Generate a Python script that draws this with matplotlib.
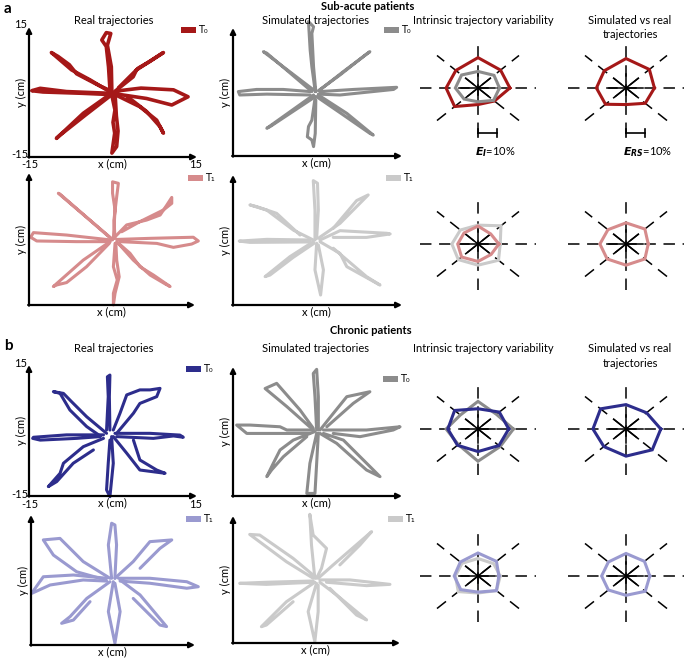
import matplotlib
matplotlib.use("Agg")
import matplotlib.pyplot as plt
import numpy as np

plt.rcParams['font.family'] = ['Lato', 'DejaVu Sans']

W, H = 685, 659

# ---------------- trajectory data (cm) ----------------
sub_real_T0 = [
    [(-0.5,-0.3),(-0.8,5.8),(-1.2,10.5),(-2.0,12.0),(-1.2,13.7),(-0.4,13.5),(-1.0,10.8),(-0.3,5.8),(-0.2,-0.3)],
    [(-0.5,0),(-4.1,2.8),(-7.4,5.1),(-11.0,9.1),(-9.8,8.2),(-7.8,6.3),(-6.5,4.2),(-2.5,1.5),(-0.3,0.2)],
    [(-0.5,-0.3),(-8.3,0.1),(-13.0,0.85),(-14.5,0.3),(-12.5,0.0),(-5.5,-0.3),(-0.3,-0.6)],
    [(-0.6,-0.6),(-5.3,-4.9),(-10.1,-10.7),(-9.5,-10.0),(-4.8,-5.2),(-0.5,-0.9)],
    [(-0.2,-0.8),(0.35,-4.15),(0.0,-7.0),(0.3,-9.5),(-0.2,-14.1),(0.65,-12.6),(0.9,-9.0),(0.6,-5.5),(0.4,-1.0)],
    [(0.2,-0.5),(4.8,-3.4),(7.8,-6.5),(9.0,-9.5),(8.4,-8.0),(6.0,-4.5),(2.5,-1.0)],
    [(0.5,0.2),(5.0,0.9),(10.8,0.5),(13.4,-1.1),(10.5,-3.0),(6.0,-1.5),(0.8,-0.5)],
    [(0.2,0.0),(3.6,3.5),(4.2,5.1),(9.0,9.1),(6.5,7.0),(4.5,5.5),(1.0,1.0)],
]
sub_sim_T0 = [
    [(-0.4,0.1),(-1.0,5.9),(-1.3,9.8),(-1.6,16.5),(-0.7,15.3),(-1.0,13.75),(-0.7,5.9),(-0.3,0.1)],
    [(-0.7,0.5),(-9.6,9.45),(-9.0,9.1),(-1.0,0.1)],
    [(-1.3,0.1),(-6.1,0.6),(-10.8,0.6),(-14.05,0.1),(-13.8,-0.7),(-9.0,-0.5),(-1.3,-0.7)],
    [(-0.7,-0.7),(-9.0,-8.5),(-8.4,-8.1),(-0.4,-1.1)],
    [(-0.4,-1.1),(-1.0,-6.6),(-1.6,-8.1),(-1.8,-10.5),(-1.0,-11.25),(-0.7,-12.8),(-0.4,-9.7),(-0.3,-1.9)],
    [(0.15,-0.7),(5.2,-5.0),(9.9,-10.1),(9.3,-9.7),(4.6,-5.4),(-0.15,-1.1)],
    [(0.45,0.1),(6.4,0.6),(14.05,1.1),(13.5,0.6),(4.0,-0.7),(0.15,-0.5)],
    [(0.45,0.5),(4.6,4.8),(9.3,9.45),(8.7,8.9),(4.0,4.0),(0.15,0.3)],
]
sub_real_T1 = [
    [(0.25,0.15),(0.55,6.6),(0.1,10.4),(0.1,13.0),(1.15,12.65),(0.85,9.6),(0.35,4.3),(0.55,0.15)],
    [(0,0),(-9.7,10.4),(-9.4,10.2),(0.1,-0.2)],
    [(-0.35,-0.2),(-8.2,0.9),(-14.2,1.45),(-14.7,0.4),(-13.6,-0.45),(-6.4,-0.6),(-0.35,-0.6)],
    [(-0.35,-0.6),(-5.2,-4.8),(-10.6,-10.8),(-10.0,-10.45),(-8.2,-9.9),(-4.6,-6.3),(-0.5,-1.0)],
    [(0.55,-1.0),(0.25,-6.3),(0.95,-9.3),(0.25,-12.35),(0.25,-15.0),(0.55,-12.35),(1.3,-8.6),(0.85,-4.8),(0.7,-1.0)],
    [(0.85,-0.6),(3.25,-3.25),(5.05,-6.3),(7.5,-8.2),(10.5,-10.8),(9.6,-10.2),(6.9,-8.2),(3.85,-4.8),(1.15,-1.0)],
    [(0.85,-0.1),(6.9,0.15),(14.7,0.4),(15.6,-0.45),(14.4,-1.15),(11.1,-1.9),(8.1,-1.0),(1.45,-0.6)],
    [(0.55,0.5),(2.65,3.2),(6.25,4.3),(8.7,5.45),(9.9,7.7),(10.8,9.45),(10.8,8.1),(9.3,6.6),(5.05,3.95),(1.75,1.65)],
]
sub_sim_T1 = [
    [(-0.45,0),(-0.45,6.9),(-0.75,13.7),(0,13.1),(0.15,6.9),(-0.15,0.4)],
    [(-0.75,0),(-4.3,2.3),(-9.0,6.9),(-12.0,8.1),(-10.8,7.7),(-7.25,6.15),(-3.1,1.15)],
    [(-1.35,0),(-9.0,0.15),(-13.9,-0.25),(-12.0,-0.55),(-1.35,-0.45)],
    [(-0.75,-0.4),(-4.9,-3.85),(-9.3,-8.45),(-8.45,-8.1),(-4.3,-4.0),(-0.6,-0.75)],
    [(-0.15,-0.75),(-0.45,-6.9),(0.55,-12.7),(1.05,-6.9),(0.15,-1.15)],
    [(0.45,-0.4),(4.0,-3.1),(5.2,-6.15),(11.1,-10.4),(8.7,-8.45),(2.8,-1.9)],
    [(0.45,0),(4.0,2.15),(12.3,1.55),(12.9,1.4),(8.7,0.6),(2.8,0.6)],
    [(0.15,0.4),(4.0,3.85),(9.0,10.4),(6.95,9.1),(2.8,2.7)],
]
chr_real_T0 = [
    [(-1.15,0.1),(-0.85,7.75),(-1.0,12.3),(-0.55,12.7),(-0.65,7.75),(-0.55,0.1)],
    [(-1.15,-0.65),(-4.7,3.15),(-7.4,6.6),(-8.85,8.5),(-10.65,8.9),(-9.45,8.5),(-7.7,4.7),(-4.7,0.9),(-2.3,-1.25)],
    [(-1.7,-1.0),(-8.3,-1.0),(-14.2,-1.55),(-14.35,-1.8),(-13.0,-2.2),(-6.5,-1.8),(-2.3,-1.4)],
    [(-1.7,-1.8),(-5.3,-3.7),(-8.85,-7.5),(-9.45,-9.8),(-11.55,-12.85),(-10.05,-11.7),(-7.1,-7.5),(-3.5,-4.45)],
    [(-0.25,-1.4),(0.05,-7.5),(-0.55,-15.15),(-1.15,-13.6),(-0.85,-7.5),(-0.55,-2.2)],
    [(0.05,-1.4),(2.45,-5.2),(4.8,-9.05),(9.3,-9.8),(7.8,-9.05),(4.8,-6.75),(3.65,-2.2)],
    [(0.35,-0.65),(6.6,-0.65),(11.95,-1.05),(12.55,-1.55),(10.8,-1.25),(7.2,-1.8),(0.65,-1.4)],
    [(0.05,0.1),(1.25,3.95),(2.45,8.15),(4.8,9.3),(6.6,9.3),(8.4,9.65),(7.8,7.75),(4.8,6.2),(3.65,3.95),(0.65,-0.65)],
]
chr_sim_T0 = [
    [(-0.15,0.35),(-0.45,8.1),(-0.75,13.5),(-0.15,14.45),(0.15,8.1),(0.15,0.35)],
    [(-0.75,0.35),(-5.45,5.8),(-9.3,10.0),(-7.25,11.2),(-3.1,5.0),(-0.75,0.75)],
    [(-0.75,0.35),(-5.45,0.35),(-6.65,1.1),(-12.0,1.5),(-14.35,1.5),(-12.55,-0.45),(-6.65,-0.45),(-1.35,-0.45)],
    [(-0.45,0),(-4.3,-2.0),(-6.65,-4.3),(-7.85,-7.4),(-9.0,-10.5),(-8.15,-8.95),(-6.05,-5.85),(-1.9,-1.2)],
    [(-0.15,-0.45),(-1.35,-7.4),(-1.9,-14.4),(-0.45,-14.4),(-0.15,-7.4),(0.15,-0.45)],
    [(1.05,-0.45),(4.6,-2.0),(11.1,-10.5),(8.7,-8.95),(3.4,-2.75),(0.45,-0.45)],
    [(1.05,0.35),(8.7,0.35),(14.65,1.1),(13.45,0.35),(7.55,-1.2),(2.8,-0.45)],
    [(0.45,0.35),(2.8,4.2),(5.2,8.1),(9.3,9.25),(6.35,6.55),(1.65,1.1)],
]
chr_real_T1 = [
    [(-0.25,0.4),(-0.85,8.1),(-0.25,13.1),(0.35,12.7),(0.65,8.1),(0.35,0.4)],
    [(-0.55,0.4),(-5.45,4.25),(-9.7,9.6),(-12.75,9.25),(-10.9,5.75),(-6.65,1.9),(-2.4,0.4)],
    [(-1.15,0.4),(-7.25,1.15),(-12.75,0.75),(-14.9,-3.1),(-11.5,-1.15),(-5.45,0),(-1.15,-0.25)],
    [(-0.55,-0.4),(-4.8,-4.25),(-7.85,-8.45),(-9.4,-10.0),(-7.25,-9.25),(-4.2,-5.0)],
    [(0.05,-0.4),(-0.85,-7.3),(0.35,-14.6),(1.3,-7.3),(0.35,-0.75)],
    [(1.3,0),(4.95,-3.45),(9.8,-10.75),(8.6,-10.4),(3.7,-4.25)],
    [(1.0,0.4),(6.75,0.4),(13.5,-0.4),(15.6,-1.55),(13.5,-1.9),(6.75,-0.75),(1.3,-0.25)],
    [(0.35,0.4),(3.7,4.25),(6.75,8.85),(10.75,9.25),(8.6,7.3),(4.95,2.7)],
]
chr_sim_T1 = [
    [(-0.3,0.3),(-0.9,8.15),(-1.2,15.4),(-0.6,10.5),(1.8,7.35),(0.9,2.65),(0,0.3)],
    [(-0.6,0.3),(-5.4,4.2),(-12.0,10.65),(-10.2,10.5),(-4.2,5.0),(-0.6,1.05)],
    [(-0.6,-0.35),(-9.0,-0.65),(-13.8,-0.9),(-9.0,-1.15),(-0.6,-0.65)],
    [(-0.3,-0.65),(-5.4,-5.25),(-9.9,-11.15),(-9.0,-10.75),(-4.2,-5.25)],
    [(0,-0.9),(-1.5,-7.6),(-0.3,-14.7),(0.3,-7.6),(0.3,-1.3)],
    [(0.6,-0.65),(3.6,-3.65),(9.0,-9.55),(7.2,-8.4),(2.4,-2.1)],
    [(0.6,-0.1),(6.0,-0.1),(13.2,-1.15),(9.0,-1.45),(1.8,-0.65)],
    [(0.3,0.3),(3.0,3.45),(9.9,11.3),(7.8,8.15),(4.2,3.45)],
]

# ---------------- radar data (% error, directions E,NE,N,NW,W,SW,S,SE) ----------------
directions_deg = [0, 45, 90, 135, 180, 225, 270, 315]
sub_intr_real_T0 = [16.5, 16.5, 19.8, 16.2, 16.5, 17.1, 10.8, 12.0]
sub_intr_sim_T0  = [11.1, 11.7, 10.8, 12.0, 11.7, 10.2, 9.0, 11.4]
sub_svr_T0       = [14.7, 17.1, 19.2, 15.9, 15.3, 15.0, 10.8, 14.1]
sub_intr_real_T1 = [10.8, 9.3, 11.7, 10.2, 10.5, 12.0, 11.4, 9.6]
sub_intr_sim_T1  = [11.5, 16.8, 12.3, 12.9, 13.5, 14.4, 13.8, 15.0]
sub_svr_T1       = [11.5, 13.8, 13.8, 13.2, 13.5, 13.8, 13.8, 13.8]
chr_intr_real_T0 = [15.9, 15.6, 13.2, 17.1, 15.6, 15.0, 14.7, 15.3]
chr_intr_sim_T0  = [18.3, 13.5, 18.0, 12.9, 16.5, 14.4, 21.0, 16.2]
chr_svr_T0       = [18.0, 15.0, 15.9, 18.6, 17.1, 16.2, 17.7, 19.2]
chr_intr_real_T1 = [10.8, 13.5, 15.0, 12.9, 12.3, 12.6, 10.5, 13.5]
chr_intr_sim_T1  = [11.5, 11.4, 11.4, 11.7, 11.7, 14.4, 11.1, 13.5]
chr_svr_T1       = [12.3, 13.5, 14.7, 12.9, 12.6, 12.9, 12.6, 14.1]
radar_full_pct = 30.0   # % at outer end of spokes
scale_bar_pct = 10

axis_limit = 15

C_SUB_T0 = '#A51818'
C_SUB_T1 = '#D68B8C'
C_CHR_T0 = '#2D2D8C'
C_CHR_T1 = '#9A9AD0'
C_SIM_T0 = '#8C8C8C'
C_SIM_T1 = '#CACACA'

FS = 8

fig = plt.figure(figsize=(W/100, H/100), dpi=100)

def px_axes(x0, y0, x1, y1):
    return fig.add_axes([x0/W, 1-y1/H, (x1-x0)/W, (y1-y0)/H])

def ftext(x, y, s, **kw):
    kw.setdefault('ha', 'center')
    kw.setdefault('va', 'center')
    kw.setdefault('fontsize', FS)
    return fig.text(x/W, 1-y/H, s, **kw)

def traj_panel(box, trajs, color, legend_px, legend_label, ticks=False, lw=2.2):
    x0, y0, x1, y1 = box
    ax = px_axes(*box)
    ax.set_xlim(-axis_limit, axis_limit)
    ax.set_ylim(-axis_limit, axis_limit)
    ax.axis('off')
    for tr in trajs:
        xs = [p[0] for p in tr]
        ys = [p[1] for p in tr]
        ax.plot(xs, ys, color=color, lw=lw, solid_joinstyle='round',
                solid_capstyle='round', clip_on=False)
    ap = dict(arrowstyle='-|>', lw=1.6, color='black', mutation_scale=8,
              shrinkA=0, shrinkB=0)
    ax.annotate('', xy=(1.0, 0), xytext=(-0.005, 0), xycoords='axes fraction', arrowprops=ap)
    ax.annotate('', xy=(0, 1.0), xytext=(0, -0.005), xycoords='axes fraction', arrowprops=ap)
    ftext((x0+x1)/2 - 1, y1 + 7, 'x (cm)')
    ftext(x0 - 8, (y0+y1)/2, 'y (cm)', rotation=90)
    if ticks:
        ftext(x0 - 2, y0 - 2, '15', ha='right')
        ftext(x0 - 1, y1 - 2, '-15', ha='right')
        ftext(x0 + 1, y1 + 8, '-15')
        ftext(x1 - 1, y1 + 8, '15')
    lx, ly = legend_px
    pa = px_axes(lx, ly - 3, lx + 15, ly + 3)
    pa.set_xlim(0, 1); pa.set_ylim(0, 1); pa.axis('off')
    pa.fill_between([0, 1], 0, 1, color=color, lw=0)
    ftext(lx + 17, ly, legend_label, ha='left', fontsize=7,
          family=['DejaVu Sans'])
    return ax

def radar_panel(center, series, colors, lw=2.2, scale_label=None):
    cx, cy = center
    hx, hy = 62, 50
    ux, uy = 58.0, 46.0
    ax = px_axes(cx - hx, cy - hy, cx + hx, cy + hy)
    ax.set_xlim(-hx/ux, hx/ux)
    ax.set_ylim(-hy/uy, hy/uy)
    ax.axis('off')
    for a in [0, 45, 90, 135]:
        t = np.deg2rad(a)
        ax.plot([-np.cos(t), np.cos(t)], [-np.sin(t), np.sin(t)], color='black',
                lw=1.1, linestyle=(0, (7.5, 5)), dash_capstyle='butt')
        ax.plot([-0.3*np.cos(t), 0.3*np.cos(t)], [-0.3*np.sin(t), 0.3*np.sin(t)],
                color='black', lw=1.1)
    ang = np.deg2rad(directions_deg + [directions_deg[0]])
    for vals, col in zip(series, colors):
        r = np.array(list(vals) + [vals[0]]) / radar_full_pct
        ax.plot(r*np.cos(ang), r*np.sin(ang), color=col, lw=lw,
                solid_joinstyle='miter', zorder=3)
    if scale_label is not None:
        L = scale_bar_pct / radar_full_pct
        yb = -(133-88)/uy
        ax.plot([0, L], [yb, yb], color='black', lw=1.2, clip_on=False)
        for xb in (0, L):
            ax.plot([xb, xb], [yb-0.08, yb+0.08], color='black', lw=1.2, clip_on=False)
        ftext(cx - 3, 152, scale_label, ha='left', fontsize=FS)
    return ax

# ---------------- panel a ----------------
ftext(8, 9, 'a', fontsize=11, fontweight='bold')
ftext(368, 7, 'Sub-acute patients', fontweight='bold')
ftext(114, 20, 'Real trajectories')
ftext(316, 20, 'Simulated trajectories')
ftext(483, 20, 'Intrinsic trajectory variability')
ftext(630, 20, 'Simulated vs real')
ftext(630, 34, 'trajectories')

traj_panel((29, 27, 197, 157), sub_real_T0, C_SUB_T0, (181, 30), 'T₀', ticks=True, lw=2.6)
traj_panel((233, 28, 402, 156), sub_sim_T0, C_SIM_T0, (384, 30), 'T₀')
traj_panel((29, 173, 195, 305), sub_real_T1, C_SUB_T1, (188, 178), 'T₁')
traj_panel((233, 175, 402, 305), sub_sim_T1, C_SIM_T1, (386, 178), 'T₁')

radar_panel((478, 88), [sub_intr_real_T0, sub_intr_sim_T0], [C_SUB_T0, C_SIM_T0],
            scale_label=r'$\mathbfit{E}_{\mathbfit{I}}$=10%')
radar_panel((626, 88), [sub_svr_T0], [C_SUB_T0],
            scale_label=r'$\mathbfit{E}_{\mathbfit{RS}}$=10%')
radar_panel((478, 244), [sub_intr_sim_T1, sub_intr_real_T1], [C_SIM_T1, C_SUB_T1])
radar_panel((626, 244), [sub_svr_T1], [C_SUB_T1])

# ---------------- panel b ----------------
ftext(8, 346, 'b', fontsize=11, fontweight='bold')
ftext(371, 330, 'Chronic patients', fontweight='bold')
ftext(114, 349, 'Real trajectories')
ftext(316, 349, 'Simulated trajectories')
ftext(483, 349, 'Intrinsic trajectory variability')
ftext(630, 349, 'Simulated vs real')
ftext(630, 363, 'trajectories')

traj_panel((29, 365, 197, 496), chr_real_T0, C_CHR_T0, (186, 369), 'T₀', ticks=True)
traj_panel((233, 367, 402, 496), chr_sim_T0, C_SIM_T0, (383, 379), 'T₀')
traj_panel((31, 515, 195, 645), chr_real_T1, C_CHR_T1, (186, 519), 'T₁')
traj_panel((233, 516, 400, 643), chr_sim_T1, C_SIM_T1, (388, 519), 'T₁')

radar_panel((478, 429), [chr_intr_sim_T0, chr_intr_real_T0], [C_SIM_T0, C_CHR_T0])
radar_panel((626, 429), [chr_svr_T0], [C_CHR_T0])
radar_panel((478, 576), [chr_intr_sim_T1, chr_intr_real_T1], [C_SIM_T1, C_CHR_T1])
radar_panel((626, 576), [chr_svr_T1], [C_CHR_T1])

fig.savefig('out.png', dpi=100)
